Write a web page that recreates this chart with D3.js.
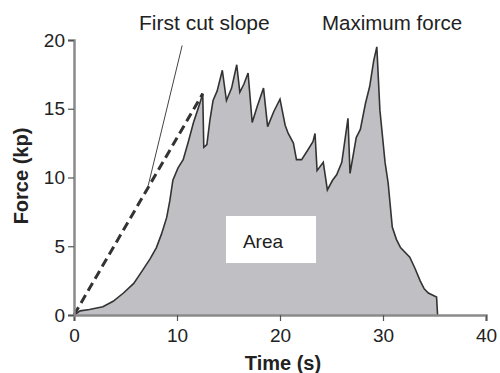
<!DOCTYPE html>
<html>
<head>
<meta charset="utf-8">
<script src="https://cdn.jsdelivr.net/npm/d3@7"></script>
<style>
  body { margin: 0; background: #fff; }
  text { font-family: "Liberation Sans", Arial, sans-serif; fill: #222; }
</style>
</head>
<body>
<svg id="mainSvg" width="500" height="373"></svg>
<script>
// force trace, time (s) and force (kp)
var times  = [0, 0.6, 1.5, 2.8, 3.8, 4.8, 5.8, 6.7, 7.4, 8.0, 8.5, 9.0, 9.3, 9.6, 10.1, 10.6, 11.1, 11.6, 12.0, 12.3, 12.5,
              12.6, 12.9, 13.2, 13.5, 13.9, 14.4, 14.8, 15.3, 15.8, 16.1, 16.5, 16.9, 17.3, 17.8, 18.4, 18.8, 19.4, 20.0,
              20.5, 20.8, 21.3, 21.6, 22.1, 22.7, 23.2, 23.4, 23.6, 24.2, 24.6, 25.1, 25.5, 26.0, 26.6, 26.8, 27.4, 27.8, 28.3,
              28.7, 29.1, 29.4, 29.7, 30.2, 30.5, 30.9, 31.3, 31.7, 32.6, 33.1, 33.6, 34.0, 34.4, 35.2, 35.3];
var forces = [0, 0.3, 0.4, 0.6, 1.0, 1.6, 2.3, 3.3, 4.1, 4.9, 5.9, 7.1, 8.3, 9.8, 10.7, 11.3, 12.6, 14.0, 14.9, 15.6, 16.1,
              12.2, 12.4, 14.2, 15.6, 16.3, 17.8, 15.6, 16.5, 18.2, 16.2, 16.8, 17.6, 14.0, 15.2, 16.5, 13.7, 14.8, 15.7,
              13.8, 13.2, 12.5, 11.3, 11.3, 12.0, 12.6, 13.2, 10.5, 11.1, 9.1, 9.8, 10.2, 11.1, 14.3, 10.3, 12.9, 13.5, 15.4,
              16.6, 18.5, 19.5, 14.9, 11.1, 9.6, 6.4, 5.5, 4.9, 4.2, 3.4, 2.5, 1.9, 1.6, 1.3, 0];

// reference lines: secant to the first peak (dashed) and first cut slope (thin)
var dashedLine = [[0, 0], [12.5, 16.1]];
var slopeLine  = [[7.2, 9.4], [10.5, 19.6]];

var xTicks = [0, 10, 20, 30, 40];
var yTicks = [0, 5, 10, 15, 20];

// "Area" box corners in data units
var areaBox = {t0: 14.76, t1: 23.5, f0: 3.78, f1: 7.2};

var data = times.map(function(t, i) { return {t: t, f: forces[i]}; });

var svg = d3.select("#mainSvg");

var x = d3.scaleLinear().domain([0, 40]).range([74, 486]);
var y = d3.scaleLinear().domain([0, 20]).range([315, 40]);

// filled area under the trace
svg.append("path")
   .datum(data)
   .attr("fill", "#c0c0c4")
   .attr("stroke", "none")
   .attr("d", d3.area()
       .x(function(d) { return x(d.t); })
       .y0(y(0))
       .y1(function(d) { return y(d.f); }));

svg.append("path")
   .datum(data)
   .attr("fill", "none")
   .attr("stroke", "#333")
   .attr("stroke-width", 1.6)
   .attr("stroke-linejoin", "miter")
   .attr("d", d3.line()
       .x(function(d) { return x(d.t); })
       .y(function(d) { return y(d.f); }));

var line = d3.line()
   .x(function(d) { return x(d[0]); })
   .y(function(d) { return y(d[1]); });

svg.append("path")
   .attr("d", line(dashedLine))
   .attr("fill", "none")
   .attr("stroke", "#333")
   .attr("stroke-width", 3)
   .attr("stroke-dasharray", "9,5");

svg.append("path")
   .attr("d", line(slopeLine))
   .attr("fill", "none")
   .attr("stroke", "#444")
   .attr("stroke-width", 1);

// Area label box
svg.append("rect")
   .attr("x", x(areaBox.t0))
   .attr("y", y(areaBox.f1))
   .attr("width", x(areaBox.t1) - x(areaBox.t0))
   .attr("height", y(areaBox.f0) - y(areaBox.f1))
   .attr("fill", "#fff");

svg.append("text")
   .attr("x", x(16.4))
   .attr("y", y(4.9))
   .style("font-size", "19px")
   .text("Area");

// axes
var xAxis = svg.append("g")
   .attr("transform", "translate(0," + y(0) + ")")
   .call(d3.axisBottom(x).tickValues(xTicks).tickSizeOuter(0).tickSize(6).tickPadding(8));

var yAxis = svg.append("g")
   .attr("transform", "translate(" + x(0) + ",0)")
   .call(d3.axisLeft(y).tickValues(yTicks).tickSizeOuter(0).tickSize(6).tickPadding(3));

[xAxis, yAxis].forEach(function(g) {
  g.select(".domain").attr("stroke", "#8a8a8a").attr("stroke-width", 2.5);
  g.selectAll(".tick line").attr("stroke", "#555").attr("stroke-width", 1.2);
  g.selectAll(".tick text")
   .style("font-size", "19px")
   .style("font-family", "'Liberation Sans', Arial, sans-serif")
   .attr("fill", "#222");
});

// axis titles
svg.append("text")
   .attr("x", 283)
   .attr("y", 370)
   .style("text-anchor", "middle")
   .style("font-size", "20px")
   .style("font-weight", "bold")
   .text("Time (s)");

svg.append("text")
   .attr("transform", "translate(28,176) rotate(-90)")
   .style("text-anchor", "middle")
   .style("font-size", "20px")
   .style("font-weight", "bold")
   .text("Force (kp)");

// annotations
svg.append("text")
   .attr("x", 139)
   .attr("y", 30)
   .style("font-size", "21px")
   .text("First cut slope");

svg.append("text")
   .attr("x", 322)
   .attr("y", 30)
   .style("font-size", "20.5px")
   .text("Maximum force");
</script>
</body>
</html>
